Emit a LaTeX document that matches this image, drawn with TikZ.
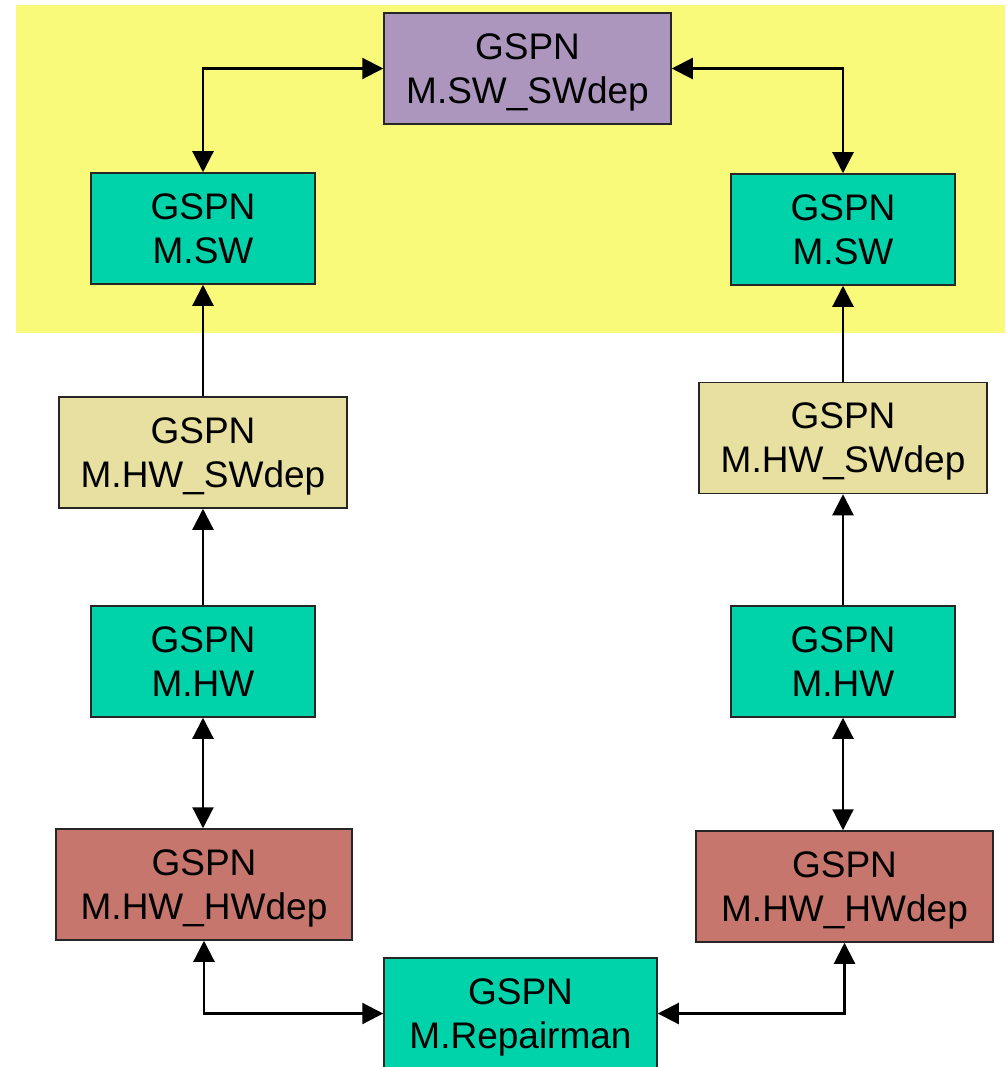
\documentclass[tikz,border=0pt]{standalone}
\usepackage{fontspec}
\setmainfont{Liberation Sans}
\usetikzlibrary{arrows.meta}
\definecolor{bgyellow}{RGB}{250,250,122}
\definecolor{swdepviolet}{RGB}{172,150,190}
\definecolor{gspnteal}{RGB}{0,211,170}
\definecolor{hwswkhaki}{RGB}{232,224,160}
\definecolor{hwhwbrown}{RGB}{198,118,108}
\tikzset{
  model/.style={draw=black!85, line width=1.5pt, rectangle, align=center,
    minimum height=111pt, inner sep=0pt, text depth=0pt,
    font=\fontsize{37}{44}\selectfont},
  link/.style={line width=2.2pt, draw=black},
  tip/.style={-{Triangle[length=21pt,width=21pt]}},
  tips/.style={{Triangle[length=21pt,width=21pt]}-{Triangle[length=21pt,width=21pt]}}
}
\begin{document}
\begin{tikzpicture}[x=1pt,y=-1pt]
  \useasboundingbox (0,0) rectangle (1005,1067);
  \clip (0,0) rectangle (1005,1067);
  % shaded software layer
  \fill[bgyellow] (16,5) rectangle (1005,333);

  % models
  \node[model, fill=swdepviolet, minimum width=287pt] (swdep) at (527.5,68.5) {GSPN\\M.SW\_SWdep};
  \node[model, fill=gspnteal, minimum width=224pt] (lsw) at (203,228.5) {GSPN\\M.SW};
  \node[model, fill=gspnteal, minimum width=224pt] (rsw) at (843,229.5) {GSPN\\M.SW};
  \node[model, fill=hwswkhaki, minimum width=288pt] (lhwsw) at (203,452.5) {GSPN\\M.HW\_SWdep};
  \node[model, fill=hwswkhaki, minimum width=288pt] (rhwsw) at (843,438) {GSPN\\M.HW\_SWdep};
  \node[model, fill=gspnteal, minimum width=224pt] (lhw) at (203,661.5) {GSPN\\M.HW};
  \node[model, fill=gspnteal, minimum width=224pt] (rhw) at (843,661.5) {GSPN\\M.HW};
  \node[model, fill=hwhwbrown, minimum width=296pt] (lhwhw) at (204,884.5) {GSPN\\M.HW\_HWdep};
  \node[model, fill=hwhwbrown, minimum width=297pt] (rhwhw) at (844.5,886.5) {GSPN\\M.HW\_HWdep};
  \node[model, fill=gspnteal, minimum width=273pt] (rep) at (520.5,1013.5) {GSPN\\M.Repairman};

  % connectors
  \draw[link, tips] (swdep.west) -| (lsw.north);
  \draw[link, tips] (swdep.east) -| (rsw.north);
  \draw[link, tip] (lhwsw.north) -- (lsw.south);
  \draw[link, tip] (rhwsw.north) -- (rsw.south);
  \draw[link, tip] (lhw.north) -- (lhwsw.south);
  \draw[link, tip] (rhw.north) -- (rhwsw.south);
  \draw[link, tips] (lhw.south) -- (lhw.south |- lhwhw.north);
  \draw[link, tips] (rhw.south) -- (rhw.south |- rhwhw.north);
  \draw[link, tips] (lhwhw.south) |- (rep.west);
  \draw[link, tips] (rep.east) -| (rhwhw.south);
\end{tikzpicture}
\end{document}
